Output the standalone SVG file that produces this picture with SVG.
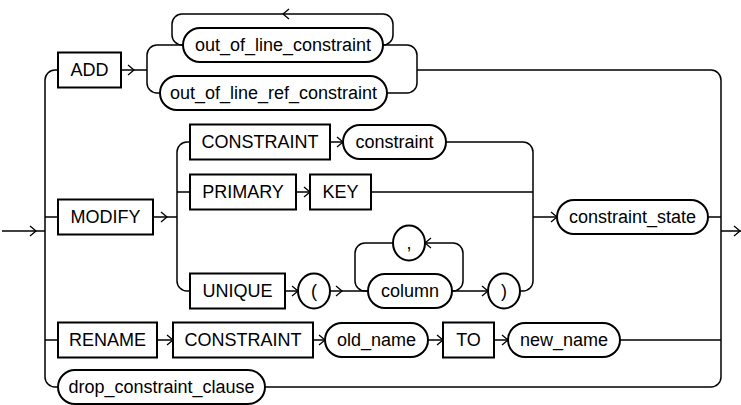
<svg xmlns="http://www.w3.org/2000/svg" width="741" height="405" viewBox="0 0 741 405">
<style>
.box{fill:#fff;stroke:#000;stroke-width:2}
.wire{fill:none;stroke:#000;stroke-width:1.5}
.arr{fill:none;stroke:#000;stroke-width:1.3}
text{font-family:"Liberation Sans",Arial,sans-serif;font-size:18px;text-anchor:middle;fill:#000}
</style>
<defs>
<path id="ar" class="arr" d="M-6,-5 L0,0 L-6,5"/>
<path id="al" class="arr" d="M6,-5 L0,0 L6,5"/>
</defs>
<g id="connectors">
<path class="wire" d="M2,231 H45"/>
<path class="wire" d="M58,70 H55 A10,10 0 0 0 45,80 V377 A10,10 0 0 0 55,387 H58"/>
<path class="wire" d="M45,217 H58 M45,340 H58"/>
<path class="wire" d="M121,70 H147 M147,70 V55 A10,10 0 0 1 157,45 H183 M147,70 V83 A10,10 0 0 0 157,93 H160"/>
<path class="wire" d="M383,45 H383 A10,10 0 0 0 393,35 V24 A10,10 0 0 0 383,14 H182 A10,10 0 0 0 172,24 V35 A10,10 0 0 0 182,45"/>
<path class="wire" d="M383,45 H407 A10,10 0 0 1 417,55 V83 A10,10 0 0 1 407,93 H387"/>
<path class="wire" d="M417,70 H711 A10,10 0 0 1 721,80 V377 A10,10 0 0 1 711,387 H265"/>
<path class="wire" d="M721,231 H741 M708,217 H721 M620,340 H721"/>
<path class="wire" d="M153,217 H177 M177,217 V152 A10,10 0 0 1 187,142 H190 M177,217 V281 A10,10 0 0 0 187,291 H190 M177,192 H190"/>
<path class="wire" d="M330,142 H343 M296,192 H310 M371,192 H533"/>
<path class="wire" d="M446,142 H523 A10,10 0 0 1 533,152 V281 A10,10 0 0 1 523,291 H520 M533,217 H557"/>
<path class="wire" d="M285,291 H298 M330,291 H368 M452,291 H488"/>
<path class="wire" d="M452,291 H453 A10,10 0 0 0 463,281 V253 A10,10 0 0 0 453,243 H425 M393,243 H365 A10,10 0 0 0 355,253 V281 A10,10 0 0 0 365,291 H368"/>
<path class="wire" d="M157,340 H173 M313,340 H325 M428,340 H443 M494,340 H508"/>
<use href="#ar" x="36" y="231"/>
<use href="#ar" x="740" y="231"/>
<use href="#ar" x="134" y="70"/>
<use href="#al" x="283" y="14"/>
<use href="#ar" x="167" y="217"/>
<use href="#ar" x="343" y="142"/>
<use href="#ar" x="310" y="192"/>
<use href="#ar" x="557" y="217"/>
<use href="#ar" x="298" y="291"/>
<use href="#ar" x="342" y="291"/>
<use href="#al" x="425" y="243"/>
<use href="#ar" x="488" y="291"/>
<use href="#ar" x="173" y="340"/>
<use href="#ar" x="325" y="340"/>
<use href="#ar" x="443" y="340"/>
<use href="#ar" x="508" y="340"/>
</g>
<g id="n_add"><rect class="box" x="58" y="52.5" width="63" height="35"/><text x="89.5" y="76">ADD</text></g>
<g id="n_oolc"><rect class="box" x="183" y="28" width="200" height="34" rx="17"/><text x="283" y="51">out_of_line_constraint</text></g>
<g id="n_oolrc"><rect class="box" x="160" y="76" width="227" height="34" rx="17"/><text x="273.5" y="99">out_of_line_ref_constraint</text></g>
<g id="n_modify"><rect class="box" x="58" y="199.5" width="95" height="35"/><text x="105.5" y="223">MODIFY</text></g>
<g id="n_constraint_kw"><rect class="box" x="190" y="124.5" width="140" height="35"/><text x="260" y="148">CONSTRAINT</text></g>
<g id="n_constraint"><rect class="box" x="343" y="125" width="103" height="34" rx="17"/><text x="394.5" y="148">constraint</text></g>
<g id="n_primary"><rect class="box" x="190" y="174.5" width="106" height="35"/><text x="243" y="198">PRIMARY</text></g>
<g id="n_key"><rect class="box" x="310" y="174.5" width="61" height="35"/><text x="340.5" y="198">KEY</text></g>
<g id="n_unique"><rect class="box" x="190" y="273.5" width="95" height="35"/><text x="237.5" y="297">UNIQUE</text></g>
<g id="n_lparen"><rect class="box" x="298" y="273.5" width="32" height="35" rx="16" ry="17.5"/><text x="314" y="297">(</text></g>
<g id="n_comma"><rect class="box" x="393" y="225.5" width="32" height="35" rx="16" ry="17.5"/><text x="409" y="249">,</text></g>
<g id="n_column"><rect class="box" x="368" y="274" width="84" height="34" rx="17"/><text x="410" y="297">column</text></g>
<g id="n_rparen"><rect class="box" x="488" y="273.5" width="32" height="35" rx="16" ry="17.5"/><text x="504" y="297">)</text></g>
<g id="n_cstate"><rect class="box" x="557" y="200" width="151" height="34" rx="17"/><text x="632.5" y="223">constraint_state</text></g>
<g id="n_rename"><rect class="box" x="58" y="322.5" width="99" height="35"/><text x="107.5" y="346">RENAME</text></g>
<g id="n_constraint_kw2"><rect class="box" x="173" y="322.5" width="140" height="35"/><text x="243" y="346">CONSTRAINT</text></g>
<g id="n_old"><rect class="box" x="325" y="323" width="103" height="34" rx="17"/><text x="376.5" y="346">old_name</text></g>
<g id="n_to"><rect class="box" x="443" y="322.5" width="51" height="35"/><text x="468.5" y="346">TO</text></g>
<g id="n_new"><rect class="box" x="508" y="323" width="112" height="34" rx="17"/><text x="564" y="346">new_name</text></g>
<g id="n_drop"><rect class="box" x="58" y="370" width="207" height="34" rx="17"/><text x="161.5" y="393">drop_constraint_clause</text></g>
</svg>
